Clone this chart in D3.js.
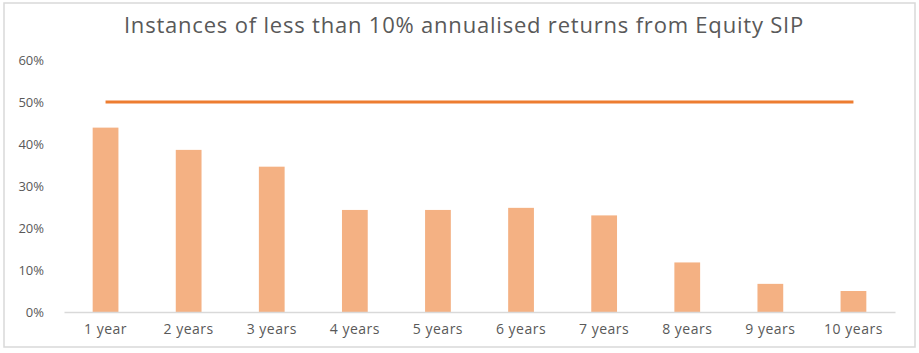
<!DOCTYPE html>
<html>
<head>
<meta charset="utf-8">
<script src="https://cdn.jsdelivr.net/npm/d3@7"></script>
<style>
  body { margin: 0; background: white; }
  svg { display: block; font-family: "Open Sans", sans-serif; }
</style>
</head>
<body>
<svg id="chart"></svg>
<script>
const categories = ["1 year", "2 years", "3 years", "4 years", "5 years", "6 years", "7 years", "8 years", "9 years", "10 years"];
const instances = [0.439, 0.386, 0.346, 0.243, 0.243, 0.248, 0.230, 0.118, 0.067, 0.050];
const threshold = [0.5, 0.5, 0.5, 0.5, 0.5, 0.5, 0.5, 0.5, 0.5, 0.5];
const yTicks = [0, 0.1, 0.2, 0.3, 0.4, 0.5, 0.6];
const title = "Instances of less than 10% annualised returns from Equity SIP";

const W = 919, H = 353;
const margin = {top: 60, right: 24, bottom: 41, left: 64};
const width = W - margin.left - margin.right,
    height = H - margin.top - margin.bottom;

const svg = d3.select("#chart").attr("width", W).attr("height", H);

// outer frame
svg.append("rect")
    .attr("x", 4).attr("y", 3)
    .attr("width", 911).attr("height", 344)
    .attr("fill", "white")
    .attr("stroke", "#d9d9d9")
    .attr("stroke-width", 1.5);

svg.append("text")
    .attr("x", 464).attr("y", 33)
    .attr("text-anchor", "middle")
    .style("font-size", "22px")
    .style("letter-spacing", "0.8px")
    .style("fill", "#595959")
    .text(title);

const g = svg.append("g").attr("transform", `translate(${margin.left},${margin.top})`);

const x = d3.scaleBand()
    .domain(categories)
    .range([0, width])
    .paddingInner(0.69)
    .paddingOuter(0.345);

const y = d3.scaleLinear()
    .domain([0, 0.6])
    .range([height, 0]);

const yAxis = g.append("g")
    .call(d3.axisLeft(y).tickValues(yTicks).tickFormat(d3.format(".0%")).tickSize(0).tickPadding(20));
yAxis.select(".domain").remove();
yAxis.selectAll("text")
    .style("font-size", "13px")
    .style("fill", "#595959")
    .style("font-family", "Open Sans, sans-serif");

g.selectAll(".bar")
    .data(instances)
    .join("rect")
    .attr("class", "bar")
    .attr("x", (d, i) => x(categories[i]))
    .attr("y", d => y(d))
    .attr("width", x.bandwidth())
    .attr("height", d => height - y(d))
    .attr("fill", "#f4b183");

const xAxis = g.append("g")
    .attr("transform", `translate(0,${height})`)
    .call(d3.axisBottom(x).tickSize(0).tickPadding(12).tickSizeOuter(0));
xAxis.select(".domain").attr("stroke", "#d9d9d9").attr("stroke-width", 1.5);
xAxis.selectAll("text")
    .style("font-size", "14px")
    .style("letter-spacing", "0.5px")
    .style("fill", "#595959")
    .style("font-family", "Open Sans, sans-serif");

g.append("path")
    .datum(threshold)
    .attr("fill", "none")
    .attr("stroke", "#ed7d31")
    .attr("stroke-width", 3)
    .attr("d", d3.line()
        .x((d, i) => x(categories[i]) + x.bandwidth() / 2)
        .y(d => y(d)));
</script>
</body>
</html>
